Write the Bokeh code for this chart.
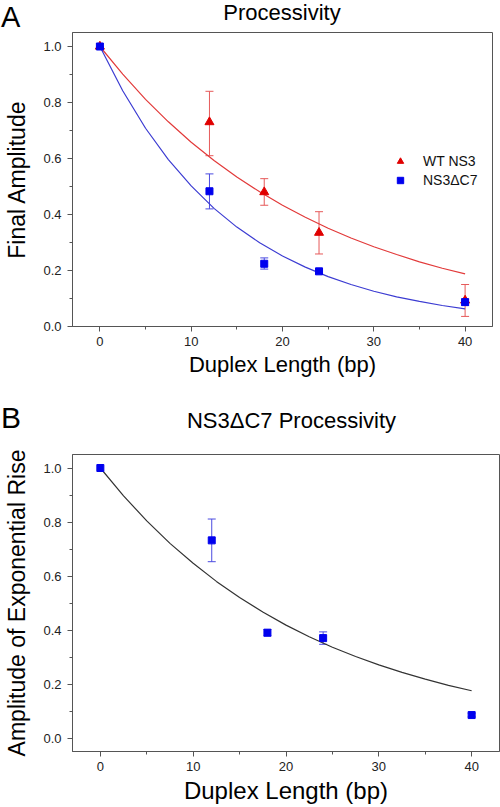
from bokeh.plotting import figure
from bokeh.models import (ColumnDataSource, Whisker, TeeHead, Legend, LegendItem,
                          FixedTicker, NumeralTickFormatter, Range1d, Div)
from bokeh.layouts import column
from bokeh.embed import file_html
from bokeh.resources import INLINE

# ---------------- data ----------------
duplex_bp = [0, 12, 18, 24, 40]

# Panel A: final amplitude
wt_amp = [1.0, 0.73, 0.48, 0.335, 0.093]
wt_lo = [1.0, 0.61, 0.433, 0.259, 0.036]
wt_hi = [1.0, 0.84, 0.528, 0.41, 0.15]

dc7_amp = [1.0, 0.483, 0.224, 0.197, 0.087]
dc7_lo = [1.0, 0.42, 0.205, 0.188, 0.076]
dc7_hi = [1.0, 0.545, 0.245, 0.206, 0.098]

# Panel B: amplitude of exponential rise (NS3dC7)
rise_amp = [1.0, 0.732, 0.39, 0.37, 0.085]
rise_lo = [1.0, 0.653, 0.378, 0.347, 0.078]
rise_hi = [1.0, 0.811, 0.402, 0.393, 0.092]

# fitted curves
fit_x = [0, 2.5, 5, 7.5, 10, 12.5, 15, 17.5, 20, 22.5, 25, 27.5, 30, 32.5, 35, 37.5, 40]
wt_fit = [1.0, 0.901, 0.811, 0.731, 0.658, 0.593, 0.534, 0.481, 0.433, 0.390, 0.351,
          0.316, 0.285, 0.257, 0.231, 0.208, 0.188]
dc7_fit = [1.0, 0.842, 0.708, 0.596, 0.502, 0.422, 0.355, 0.299, 0.252, 0.212, 0.178,
           0.150, 0.126, 0.106, 0.090, 0.075, 0.063]
rise_fit = [1.0, 0.897, 0.804, 0.721, 0.647, 0.580, 0.520, 0.467, 0.418, 0.375, 0.336,
            0.302, 0.271, 0.243, 0.218, 0.195, 0.175]

x_ticks = [0, 10, 20, 30, 40]
x_minor = [5, 15, 25, 35]
y_ticks = [0.0, 0.2, 0.4, 0.6, 0.8, 1.0]
y_minor = [0.1, 0.3, 0.5, 0.7, 0.9]

title_a = "Processivity"
title_b = "NS3\u0394C7 Processivity"

FONT = "Liberation Sans"
RED = "#e00000"
RED_LINE = "#e23a3a"
RED_ERR = "#e65a5a"
BLUE = "#0000ee"
BLUE_LINE = "#3c3cd2"
BLUE_ERR = "#4b4be0"
FRAME = "#555555"

W = 500
LEFT = 72


def make_fig(height, top, bottom, right, y0, y1, xlabel, ylabel, xls, yls):
    p = figure(width=W, height=height, output_backend="svg", toolbar_location=None,
               x_range=Range1d(-3, 43), y_range=Range1d(y0, y1),
               min_border_left=LEFT, min_border_right=right,
               min_border_top=top, min_border_bottom=bottom, margin=0,
               frame_align=False)
    p.xgrid.visible = False
    p.ygrid.visible = False
    p.outline_line_color = FRAME
    p.outline_line_width = 1
    p.background_fill_color = "white"
    p.border_fill_color = "white"
    for ax in (p.xaxis[0], p.yaxis[0]):
        ax.axis_line_color = FRAME
        ax.major_tick_line_color = FRAME
        ax.minor_tick_line_color = FRAME
        ax.major_tick_out = 5
        ax.major_tick_in = 0
        ax.minor_tick_out = 3
        ax.minor_tick_in = 0
        ax.major_label_text_font = FONT
        ax.major_label_text_font_size = "13px"
        ax.major_label_text_color = "#222222"
        ax.axis_label_text_font = FONT
        ax.axis_label_text_font_style = "normal"
        ax.axis_label_text_color = "black"
        ax.major_label_standoff = 5
    p.xaxis[0].axis_label_text_font_size = xls
    p.yaxis[0].axis_label_text_font_size = yls
    p.yaxis[0].major_label_standoff = 6
    p.xaxis[0].ticker = FixedTicker(ticks=x_ticks, minor_ticks=x_minor)
    p.yaxis[0].ticker = FixedTicker(ticks=y_ticks, minor_ticks=y_minor)
    p.yaxis[0].formatter = NumeralTickFormatter(format="0.0")
    p.xaxis[0].axis_label = xlabel
    p.yaxis[0].axis_label = ylabel
    p.xaxis[0].axis_label_standoff = 3
    p.yaxis[0].axis_label_standoff = 10
    return p


def whisker(p, lo, hi, color):
    keep = [i for i in range(len(duplex_bp)) if hi[i] != lo[i]]
    src = ColumnDataSource(data=dict(x=[duplex_bp[i] for i in keep],
                                     lo=[lo[i] for i in keep],
                                     hi=[hi[i] for i in keep]))
    w = Whisker(base="x", lower="lo", upper="hi", source=src,
                line_color=color, line_width=1,
                upper_head=TeeHead(size=8, line_color=color, line_width=1),
                lower_head=TeeHead(size=8, line_color=color, line_width=1))
    p.add_layout(w)


def header(height, letter, letter_size, letter_top, title, title_size, title_top,
           title_left, title_w):
    html = (
        f'<div style="position:relative;width:{W}px;height:{height}px;'
        f'font-family:\'{FONT}\';color:black;">'
        f'<span style="position:absolute;left:1px;top:{letter_top}px;'
        f'font-size:{letter_size}px;line-height:{letter_size}px;">{letter}</span>'
        f'<span style="position:absolute;left:{title_left}px;width:{title_w}px;'
        f'top:{title_top}px;text-align:center;font-size:{title_size}px;'
        f'line-height:{title_size}px;white-space:nowrap;">{title}</span>'
        f'</div>'
    )
    return Div(text=html, width=W, height=height, margin=0)


# ---------------- Panel A ----------------
head_a = header(30, "A", 29, 2.5, title_a, 22, 1.5, LEFT, 420)

pA = make_fig(350, 2, 54, 8, 0.0, 1.05, "Duplex Length (bp)", "Final Amplitude",
              "22px", "23px")

pA.line(fit_x, wt_fit, line_color=RED_LINE, line_width=1.2)
pA.line(fit_x, dc7_fit, line_color=BLUE_LINE, line_width=1.2)
whisker(pA, wt_lo, wt_hi, RED_ERR)
whisker(pA, dc7_lo, dc7_hi, BLUE_ERR)
r_wt = pA.scatter(duplex_bp, wt_amp, marker="triangle", size=9,
                  fill_color=RED, line_color=RED)
r_dc7 = pA.scatter(duplex_bp, dc7_amp, marker="square", size=7,
                   fill_color=BLUE, line_color=BLUE)

legend = Legend(items=[LegendItem(label="WT NS3", renderers=[r_wt]),
                       LegendItem(label="NS3\u0394C7", renderers=[r_dc7])],
                location=(320, 138), orientation="vertical",
                border_line_alpha=0, background_fill_alpha=0,
                padding=0, margin=0, spacing=3,
                glyph_width=16, glyph_height=16, label_height=16,
                label_standoff=15, label_text_font=FONT,
                label_text_font_size="14px", label_text_color="#111111")
pA.add_layout(legend)

# ---------------- Panel B ----------------
head_b = header(60, "B", 30, 23, title_b, 22, 29.7, LEFT + 6, 427)

pB = make_fig(367, 14, 56, 1, -0.05, 1.05, "Duplex Length (bp)",
              "Amplitude of Exponential Rise", "24px", "23px")

pB.line(fit_x, rise_fit, line_color="#333333", line_width=1.2)
whisker(pB, rise_lo, rise_hi, BLUE_ERR)
pB.scatter(duplex_bp, rise_amp, marker="square", size=7,
           fill_color=BLUE, line_color=BLUE)

layout = column(head_a, pA, head_b, pB, spacing=0)
open("out.html", "w").write(file_html(layout, INLINE))
